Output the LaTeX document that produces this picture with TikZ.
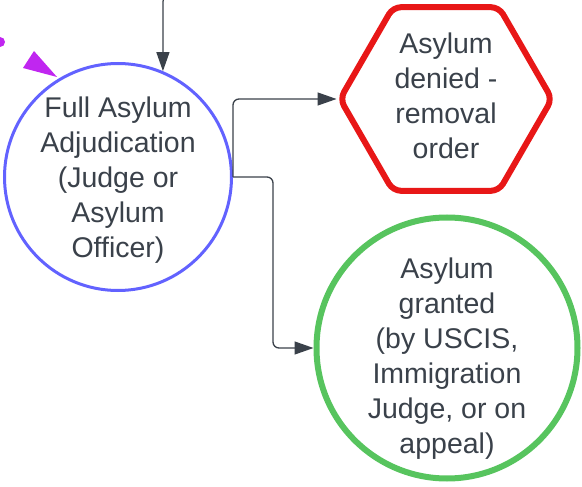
\documentclass[tikz,border=0pt]{standalone}
\usepackage{fontspec}
\setmainfont{Liberation Sans}
\usetikzlibrary{shapes.geometric,arrows.meta}
\definecolor{bluec}{RGB}{98,98,255}
\definecolor{redc}{RGB}{232,23,23}
\definecolor{greenc}{RGB}{87,196,94}
\definecolor{magc}{RGB}{192,38,240}
\definecolor{txtc}{RGB}{58,65,74}
\tikzset{
  lbl/.style={text=txtc, align=center, font=\fontsize{28.5}{35}\selectfont, inner sep=0pt},
  conn/.style={draw=txtc, line width=1.3pt, rounded corners=6pt,
    -{Triangle[length=19pt,width=13pt]}},
}
\begin{document}
\begin{tikzpicture}[x=1pt,y=-1pt]
\useasboundingbox (0,0) rectangle (582,487);
% shapes
\node[circle, draw=bluec, line width=3pt, minimum size=227pt, inner sep=0pt] (blue) at (118,177) {};
\node[regular polygon, regular polygon sides=6, draw=redc, line width=6pt, minimum size=212pt, inner sep=0pt, rounded corners=8pt] (hex) at (446,99) {};
\node[circle, draw=greenc, line width=6pt, minimum size=261pt, inner sep=0pt] (green) at (447,348) {};
% texts
\node[lbl] (bluet) at (118,180) {Full Asylum\\Adjudication\\(Judge or\\Asylum\\Officer)};
\node[lbl] (hext) at (446,96) {Asylum\\denied -\\removal\\order};
\node[lbl] (greent) at (447,359) {Asylum\\granted\\(by USCIS,\\Immigration\\Judge, or on\\appeal)};
% magenta partial connector
\node[circle, fill=magc, minimum size=10pt, inner sep=0pt] (pdot) at (0,42) {};
\fill[magc] (57,77) -- (23,68) -- (34,51) -- cycle;
% connectors
\coordinate (topin) at (190,-4);
\draw[conn] (topin) -| (blue.67);
\draw[conn] (blue.east) |- (hex.west);
\draw[conn] (blue.east) -- ++(40,0) |- (green.west);
\end{tikzpicture}
\end{document}
